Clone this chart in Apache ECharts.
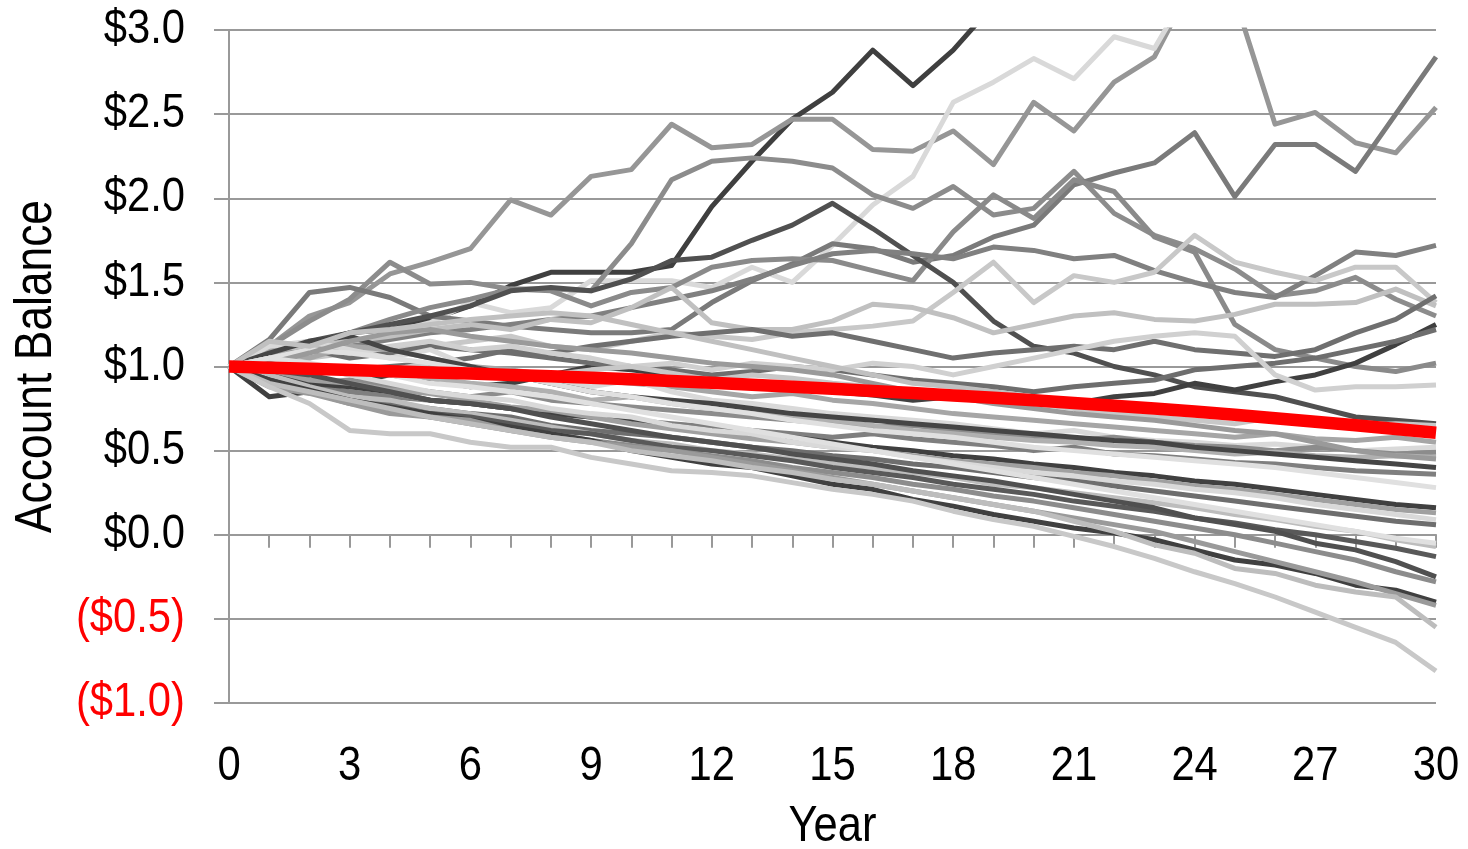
<!DOCTYPE html>
<html><head><meta charset="utf-8">
<script src="https://cdn.jsdelivr.net/npm/echarts@6/dist/echarts.min.js"></script>
<style>html,body{margin:0;padding:0;background:#fff}#c{width:1468px;height:849px}</style>
</head><body><div id="c"></div>
<script>
const years=[0,1,2,3,4,5,6,7,8,9,10,11,12,13,14,15,16,17,18,19,20,21,22,23,24,25,26,27,28,29,30];
// average path (red)
const averagePath=[1.000,0.993,0.986,0.979,0.972,0.965,0.958,0.950,0.942,0.933,0.924,0.914,0.903,0.892,0.880,0.868,0.855,0.842,0.828,0.814,0.799,0.783,0.767,0.750,0.732,0.713,0.693,0.672,0.651,0.629,0.606];
// simulated paths (gray)
const pathA=[1.00,1.08,1.14,1.20,1.22,1.28,1.36,1.48,1.56,1.56,1.56,1.60,1.95,2.22,2.47,2.63,2.88,2.67,2.88,3.15,3.30,3.50,3.60,3.80,3.90,4.00,4.10,4.30,4.40,4.50,4.60];
const pathB=[1.00,1.12,1.30,1.38,1.55,1.62,1.70,1.99,1.90,2.13,2.17,2.44,2.30,2.32,2.47,2.47,2.29,2.28,2.40,2.20,2.57,2.40,2.69,2.84,3.30,3.19,2.44,2.51,2.33,2.27,2.54];
const pathC=[1.00,1.06,1.10,1.15,1.20,1.26,1.38,1.32,1.35,1.51,1.51,1.51,1.47,1.59,1.50,1.72,1.96,2.13,2.57,2.69,2.83,2.71,2.96,2.89,3.30,3.40,3.50,3.60,3.70,3.80,3.90];
const pathD=[1.00,1.12,1.27,1.40,1.62,1.49,1.50,1.46,1.46,1.45,1.73,2.11,2.22,2.24,2.22,2.18,2.02,1.94,2.07,1.90,1.94,2.16,1.91,1.78,1.70,1.58,1.42,1.45,1.53,1.40,1.30];
const pathE=[1.00,1.16,1.44,1.47,1.41,1.30,1.27,1.24,1.22,1.20,1.20,1.22,1.38,1.51,1.61,1.73,1.70,1.62,1.66,1.77,1.84,2.08,2.15,2.21,2.39,2.01,2.32,2.32,2.16,2.50,2.84];
const pathF=[1.00,1.05,1.12,1.20,1.28,1.35,1.40,1.46,1.45,1.36,1.44,1.47,1.59,1.63,1.64,1.63,1.57,1.51,1.80,2.02,1.88,2.11,2.04,1.77,1.68,1.25,1.10,1.05,1.00,0.97,1.02];
const pathG=[1.00,1.10,1.15,1.20,1.25,1.30,1.36,1.45,1.47,1.45,1.52,1.63,1.65,1.75,1.84,1.97,1.82,1.66,1.50,1.27,1.12,1.08,1.00,0.95,0.88,0.85,0.82,0.76,0.70,0.68,0.66];
const pathH=[1.00,1.05,1.10,1.12,1.16,1.20,1.22,1.25,1.28,1.30,1.35,1.40,1.45,1.52,1.60,1.67,1.69,1.67,1.64,1.71,1.69,1.64,1.66,1.57,1.50,1.44,1.41,1.54,1.68,1.66,1.72];
const pathI=[1.00,1.02,1.05,1.08,1.10,1.12,1.15,1.18,1.12,1.10,1.15,1.20,1.18,1.16,1.20,1.22,1.24,1.27,1.44,1.62,1.38,1.54,1.50,1.56,1.78,1.62,1.56,1.51,1.59,1.59,1.38];
const pathJ=[1.00,1.10,1.12,1.15,1.18,1.22,1.25,1.22,1.28,1.26,1.35,1.47,1.26,1.22,1.22,1.27,1.37,1.35,1.29,1.20,1.25,1.30,1.32,1.28,1.27,1.31,1.37,1.37,1.38,1.46,1.36];
const pathK=[1.00,1.05,1.00,0.98,1.00,1.02,1.05,1.10,1.08,1.12,1.15,1.18,1.20,1.22,1.18,1.20,1.15,1.10,1.05,1.08,1.10,1.12,1.10,1.15,1.10,1.08,1.06,1.10,1.20,1.28,1.42];
const pathL=[1.00,0.82,0.85,0.90,0.95,0.92,0.88,0.90,0.95,1.00,0.98,0.95,0.92,0.90,0.88,0.85,0.83,0.80,0.82,0.85,0.80,0.78,0.82,0.84,0.90,0.86,0.91,0.95,1.02,1.13,1.25];
const pathM=[1.00,1.05,1.10,1.05,1.08,1.12,1.10,1.08,1.05,1.02,1.00,0.98,0.95,0.97,1.00,0.98,0.95,0.92,0.90,0.88,0.85,0.88,0.90,0.92,0.98,1.00,1.02,1.05,1.10,1.15,1.22];
const pathN=[1.00,1.05,1.10,1.08,1.12,1.15,1.10,1.12,1.08,1.05,1.00,1.02,0.98,1.02,1.00,0.98,1.02,1.00,0.95,1.00,1.05,1.10,1.15,1.18,1.20,1.18,0.95,0.86,0.88,0.88,0.89];
const pathO=[1.00,0.97,0.95,1.00,0.98,1.02,1.00,0.97,0.95,0.98,1.00,0.96,0.92,0.95,0.93,0.90,0.88,0.85,0.82,0.80,0.78,0.75,0.72,0.70,0.68,0.66,0.70,0.68,0.65,0.66,0.65];
const pathP=[1.00,1.10,1.05,1.12,1.10,1.05,1.00,0.98,0.95,0.92,0.90,0.88,0.85,0.82,0.84,0.80,0.78,0.75,0.72,0.70,0.68,0.66,0.64,0.62,0.60,0.58,0.60,0.57,0.56,0.58,0.55];
const pathQ=[1.00,1.12,1.15,1.10,1.05,1.10,1.00,0.95,0.90,0.88,0.92,0.85,0.80,0.78,0.75,0.72,0.70,0.68,0.66,0.63,0.60,0.62,0.58,0.56,0.55,0.53,0.54,0.52,0.50,0.51,0.52];
const pathR=[1.00,0.95,0.90,0.92,0.88,0.85,0.82,0.85,0.80,0.78,0.76,0.74,0.72,0.70,0.68,0.66,0.64,0.65,0.62,0.60,0.58,0.56,0.58,0.55,0.53,0.52,0.50,0.52,0.50,0.48,0.49];
const pathS=[1.00,1.05,1.00,0.95,0.97,0.93,0.90,0.88,0.85,0.80,0.82,0.78,0.75,0.73,0.70,0.68,0.65,0.62,0.60,0.58,0.56,0.55,0.53,0.52,0.50,0.48,0.49,0.47,0.46,0.47,0.46];
const pathT=[1.00,1.08,1.15,1.18,1.10,1.05,1.00,0.95,0.90,0.85,0.82,0.80,0.78,0.75,0.72,0.70,0.68,0.66,0.64,0.62,0.60,0.58,0.56,0.55,0.52,0.50,0.48,0.46,0.44,0.42,0.40];
const pathU=[1.00,0.92,0.88,0.85,0.82,0.80,0.78,0.75,0.72,0.70,0.68,0.66,0.64,0.62,0.60,0.58,0.60,0.57,0.55,0.53,0.50,0.52,0.48,0.47,0.45,0.43,0.42,0.40,0.38,0.37,0.36];
const pathV=[1.00,1.05,1.10,1.08,1.05,1.02,0.98,0.95,0.90,0.85,0.82,0.78,0.75,0.72,0.68,0.65,0.62,0.60,0.58,0.55,0.52,0.50,0.48,0.46,0.44,0.42,0.40,0.37,0.34,0.31,0.28];
const pathW=[1.00,1.02,1.08,1.15,1.20,1.22,1.18,1.15,1.12,1.10,1.08,1.05,1.02,1.00,0.98,0.95,0.90,0.85,0.82,0.78,0.75,0.72,0.70,0.68,0.65,0.62,0.60,0.55,0.50,0.47,0.45];
const pathX=[1.00,1.15,1.12,1.20,1.22,1.25,1.28,1.30,1.32,1.30,1.25,1.20,1.15,1.10,1.05,1.00,0.95,0.90,0.88,0.85,0.82,0.80,0.78,0.75,0.72,0.70,0.68,0.67,0.65,0.63,0.62];
const pathY=[1.00,0.95,0.90,0.88,0.85,0.80,0.78,0.75,0.72,0.70,0.68,0.65,0.62,0.60,0.58,0.55,0.52,0.50,0.47,0.45,0.42,0.40,0.37,0.35,0.32,0.30,0.27,0.24,0.21,0.18,0.16];
const pathZ=[1.00,0.98,0.92,0.90,0.86,0.84,0.80,0.76,0.74,0.70,0.66,0.63,0.60,0.57,0.55,0.52,0.50,0.47,0.44,0.42,0.40,0.37,0.35,0.32,0.29,0.27,0.24,0.21,0.18,0.15,0.13];
const pathAA=[1.00,1.05,1.00,0.95,0.90,0.85,0.82,0.80,0.75,0.72,0.70,0.65,0.62,0.60,0.55,0.52,0.50,0.46,0.43,0.40,0.37,0.35,0.32,0.30,0.27,0.25,0.22,0.18,0.15,0.12,0.09];
const pathAB=[1.00,0.90,0.85,0.80,0.78,0.75,0.72,0.70,0.65,0.62,0.60,0.58,0.55,0.52,0.50,0.47,0.45,0.42,0.40,0.37,0.34,0.32,0.29,0.26,0.23,0.20,0.17,0.14,0.11,0.08,0.06];
const pathAC=[1.00,0.95,0.88,0.82,0.80,0.75,0.72,0.68,0.64,0.60,0.56,0.54,0.50,0.48,0.45,0.42,0.40,0.37,0.34,0.30,0.28,0.25,0.22,0.19,0.16,0.12,0.09,0.05,0.02,-0.03,-0.07];
const pathAD=[1.00,0.92,0.85,0.80,0.75,0.72,0.70,0.66,0.62,0.60,0.56,0.52,0.50,0.47,0.44,0.40,0.37,0.34,0.30,0.27,0.24,0.20,0.17,0.14,0.10,0.07,0.03,0.00,-0.04,-0.08,-0.13];
const pathAE=[1.00,0.98,0.95,0.90,0.85,0.80,0.78,0.75,0.70,0.66,0.62,0.58,0.55,0.52,0.48,0.45,0.42,0.38,0.35,0.32,0.28,0.24,0.20,0.16,0.10,0.06,0.02,-0.05,-0.09,-0.16,-0.25];
const pathAF=[1.00,0.90,0.85,0.78,0.75,0.70,0.66,0.62,0.60,0.56,0.53,0.50,0.47,0.44,0.40,0.37,0.34,0.30,0.27,0.23,0.20,0.16,0.12,0.08,0.04,0.00,-0.05,-0.10,-0.15,-0.22,-0.28];
const pathAG=[1.00,0.92,0.86,0.80,0.76,0.72,0.68,0.64,0.60,0.56,0.50,0.46,0.42,0.40,0.35,0.30,0.27,0.21,0.17,0.12,0.08,0.04,0.01,-0.03,-0.09,-0.15,-0.18,-0.23,-0.30,-0.33,-0.40];
const pathAH=[1.00,0.88,0.84,0.78,0.72,0.70,0.68,0.62,0.58,0.55,0.52,0.50,0.46,0.42,0.38,0.34,0.30,0.26,0.22,0.18,0.14,0.10,0.06,0.02,-0.04,-0.10,-0.16,-0.22,-0.28,-0.35,-0.42];
const pathAI=[1.00,1.05,1.02,0.98,0.95,0.90,0.88,0.85,0.82,0.78,0.74,0.70,0.66,0.62,0.58,0.54,0.50,0.46,0.42,0.38,0.34,0.30,0.26,0.22,0.18,0.14,0.10,0.06,0.02,-0.02,-0.05];
const pathAJ=[1.00,0.90,0.85,0.80,0.75,0.70,0.66,0.62,0.58,0.55,0.50,0.47,0.44,0.40,0.37,0.33,0.30,0.26,0.22,0.18,0.14,0.08,0.02,-0.06,-0.11,-0.20,-0.23,-0.30,-0.34,-0.37,-0.55];
const pathAK=[1.00,0.88,0.78,0.62,0.60,0.60,0.55,0.52,0.52,0.46,0.42,0.38,0.37,0.35,0.31,0.27,0.24,0.20,0.14,0.09,0.05,-0.01,-0.07,-0.14,-0.22,-0.29,-0.37,-0.46,-0.55,-0.64,-0.81];

const grayPaths=[pathA,pathB,pathC,pathD,pathE,pathF,pathG,pathH,pathI,pathJ,pathK,pathL,pathM,pathN,pathO,pathP,pathQ,pathR,pathS,pathT,pathU,pathV,pathW,pathX,pathY,pathZ,pathAA,pathAB,pathAC,pathAD,pathAE,pathAF,pathAG,pathAH,pathAI,pathAJ,pathAK];
const grayColors=['#3f3f3f','#969696','#d9d9d9','#8c8c8c','#7a7a7a','#8a8a8a','#505050','#808080','#c8c8c8','#c0c0c0','#6f6f6f','#404040','#6e6e6e','#d0d0d0',
 '#c8c8c8','#a6a6a6','#d9d9d9','#8c8c8c','#b0b0b0','#454545','#7f7f7f','#e0e0e0','#9a9a9a','#c0c0c0',
 '#404040','#a0a0a0','#d9d9d9','#6e6e6e','#bdbdbd','#595959','#505050','#8c8c8c','#404040','#9a9a9a','#e0e0e0','#bdbdbd','#c8c8c8'];

// Narrow-looking text: draw every text horizontally condensed around its anchor
(function(){
  const P=CanvasRenderingContext2D.prototype;
  const orig=P.fillText;
  const SX=0.87;
  P.fillText=function(t,x,y,maxW){
    this.save();
    this.translate(x,y);
    this.scale(SX,1);
    if(maxW!==undefined) orig.call(this,t,0,0,maxW/SX); else orig.call(this,t,0,0);
    this.restore();
  };
})();

const FONT="'Liberation Sans',Arial,sans-serif";
const GRID='#999999';
const pairs=vals=>vals.map((v,i)=>[years[i],v]);

const series=grayPaths.map((p,i)=>({
  type:'line',data:pairs(p),symbol:'none',showSymbol:false,silent:true,z:2,
  lineStyle:{color:grayColors[i],width:5,join:'round'}
}));
series.push({type:'line',data:pairs(averagePath),symbol:'none',showSymbol:false,silent:true,z:5,
  lineStyle:{color:'#ff0000',width:12.5}});

const chart=echarts.init(document.getElementById('c'),null,{renderer:'canvas'});
chart.setOption({
  animation:false,
  backgroundColor:'#ffffff',
  grid:{left:229,right:32,top:30,bottom:146,containLabel:false,outerBoundsMode:'none'},
  xAxis:[
    {type:'value',min:0,max:30,interval:3,position:'bottom',
     axisLine:{show:false,onZero:false},axisTick:{show:false},splitLine:{show:false},
     axisLabel:{fontSize:48,fontFamily:FONT,color:'#000',margin:40},
     name:'Year',nameLocation:'middle',nameGap:99,nameMoveOverlap:false,
     nameTextStyle:{fontSize:50,fontFamily:FONT,color:'#000'}},
    {type:'value',min:0,max:30,interval:1,position:'bottom',
     axisLine:{show:true,onZero:true,onZeroAxisIndex:0,lineStyle:{color:GRID,width:2}},
     axisTick:{show:true,length:13,lineStyle:{color:GRID,width:2}},
     axisLabel:{show:false},splitLine:{show:false}}
  ],
  yAxis:{type:'value',min:-1,max:3,interval:0.5,
    axisLine:{show:true,onZero:false,lineStyle:{color:GRID,width:2}},
    axisTick:{show:true,length:15,lineStyle:{color:GRID,width:2}},
    splitLine:{show:true,lineStyle:{color:GRID,width:2}},
    axisLabel:{fontSize:48,fontFamily:FONT,margin:44,
      formatter:v=>v<0?'($'+(-v).toFixed(1)+')':'$'+v.toFixed(1),
      color:v=>(Number(v)<0?'#ff0000':'#000000')},
    name:'Account Balance',nameLocation:'middle',nameRotate:90,nameGap:167,nameMoveOverlap:false,
    nameTextStyle:{fontSize:51,fontFamily:FONT,color:'#000'}},
  series:series
});
</script></body></html>
